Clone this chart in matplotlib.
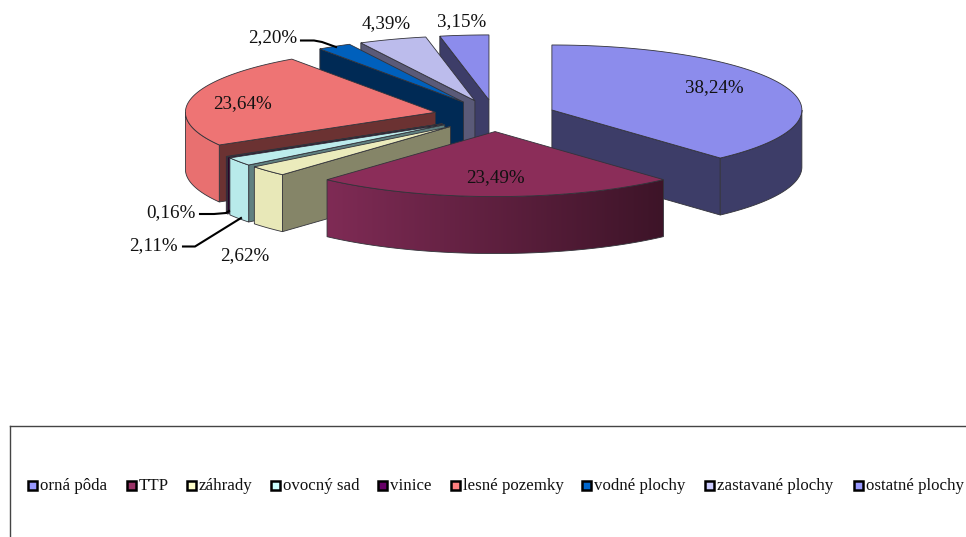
import numpy as np
import matplotlib
matplotlib.use("Agg")
import matplotlib.pyplot as plt
from matplotlib.patches import Polygon, Rectangle

plt.rcParams['font.family'] = ['Liberation Serif', 'DejaVu Serif']

# data
categories = ["orná pôda", "TTP", "záhrady", "ovocný sad", "vinice",
              "lesné pozemky", "vodné plochy", "zastavané plochy", "ostatné plochy"]
values = [38.24, 23.49, 2.62, 2.11, 0.16, 23.64, 2.20, 4.39, 3.15]

# colours
legend_colors = ["#9999ff", "#993366", "#ffffcc", "#ccffff", "#660066",
                 "#ff8080", "#0066cc", "#ccccff", "#9999ff"]
top_colors = ["#8c8cec", "#8b2d59", "#ebebbc", "#bcecec", "#5a0a5a",
              "#ee7474", "#0060bc", "#bcbcec", "#8c8cec"]
rim_colors = ["#3d3d68", "#7f2b55", "#e8e8b8", "#b8eaea", "#3a0a3a",
              "#e87070", "#002a55", "#5a5a78", "#3d3d68"]
cut_colors = ["#3d3d68", "#3d1428", "#858568", "#5f8080", "#2a052a",
              "#6b3232", "#002a55", "#5a5a78", "#3d3d68"]

# pie geometry in pixels
cx, cy = 495, 115.7
radius = 250
ry = 65
explode = 61
depth = 57
edge = "#33333a"


def rim_point(ax0, ay0, deg):
    a = np.radians(deg)
    return ax0 + radius * np.sin(a), ay0 - ry * np.cos(a)


def draw_slice(ax, i, start, end):
    mid = np.radians((start + end) / 2)
    ax0 = cx + explode * np.sin(mid)
    ay0 = cy - explode * ry / radius * np.cos(mid)
    sx, sy = rim_point(ax0, ay0, start)
    ex, ey = rim_point(ax0, ay0, end)

    # cut faces, only those turned to the viewer
    if 180 < start < 360:
        ax.add_patch(Polygon([(ax0, ay0), (sx, sy), (sx, sy + depth), (ax0, ay0 + depth)],
                             fc=cut_colors[i], ec=edge, lw=0.6))
    if 0 < end < 180:
        ax.add_patch(Polygon([(ax0, ay0), (ex, ey), (ex, ey + depth), (ax0, ay0 + depth)],
                             fc=cut_colors[i], ec=edge, lw=0.6))

    # outer wall on the front half
    lo, hi = max(start, 90), min(end, 270)
    if hi > lo:
        angles = np.linspace(lo, hi, 120)
        xs, ys = rim_point(ax0, ay0, angles)
        pts = list(zip(xs, ys)) + list(zip(xs[::-1], ys[::-1] + depth))
        if categories[i] == "TTP":
            # this one fades to dark towards the right
            c0 = np.array(matplotlib.colors.to_rgb(rim_colors[i]))
            c1 = np.array(matplotlib.colors.to_rgb(cut_colors[i]))
            grad = np.linspace(0, 1, 256)[None, :, None]
            img = c0 + (c1 - c0) * grad
            wall = Polygon(pts, fc="none", ec="none")
            ax.add_patch(wall)
            im = ax.imshow(img, extent=(xs.min(), xs.max(), ys.max() + depth, ys.min()),
                           aspect="auto", zorder=wall.get_zorder())
            im.set_clip_path(wall)
            ax.set_xlim(0, 966)
            ax.set_ylim(537, 0)
            ax.add_patch(Polygon(pts, fc="none", ec=edge, lw=0.6, zorder=1.5))
        else:
            ax.add_patch(Polygon(pts, fc=rim_colors[i], ec=edge, lw=0.6))

    # top face
    angles = np.linspace(start, end, 80)
    xs, ys = rim_point(ax0, ay0, angles)
    z = 2 if categories[i] == "TTP" else 1
    ax.add_patch(Polygon([(ax0, ay0)] + list(zip(xs, ys)), fc=top_colors[i], ec=edge, lw=0.6, zorder=z))


fig = plt.figure(figsize=(9.66, 5.37), dpi=100)
ax = fig.add_axes([0, 0, 1, 1])
ax.set_xlim(0, 966)
ax.set_ylim(537, 0)
ax.axis("off")

bounds = np.concatenate([[0], np.cumsum(values)]) * 3.6
bounds[-1] = 360

# back slices first, TTP sits in front of everything
draw_order = [8, 7, 6, 5, 4, 3, 2, 0, 1]
for i in draw_order:
    draw_slice(ax, i, bounds[i], bounds[i + 1])

# percentage labels
label_pos = [(714, 88), (495, 178), (245, 256), (153, 246), (171, 213),
             (242, 104), (273, 38), (386, 24), (462, 22)]
for v, (x, y) in zip(values, label_pos):
    ax.text(x, y, f"{v:.2f}%".replace(".", ","), fontsize=13.7, ha="center", va="center",
            color="#111111", zorder=5)

# leader lines
ax.plot([301, 314, 322, 336], [40.5, 40.5, 42, 47], color="black", lw=1.5, zorder=5)
ax.plot([200, 214, 226, 229], [214, 214, 213, 211], color="black", lw=1.5, zorder=5)
ax.plot([183, 195, 241], [246.5, 246.5, 218], color="black", lw=1.5, zorder=5)

# legend box runs off the image on the right and at the bottom
ax.plot([9.5, 9.5], [537, 425.5], color="#444444", lw=1.0)
ax.plot([9.5, 966], [425.5, 425.5], color="#444444", lw=1.0)

swatch_x = [27, 126, 186, 270, 377, 450, 581, 704, 853]
for name, col, x in zip(categories, legend_colors, swatch_x):
    ax.add_patch(Rectangle((x + 1, 480.5), 9, 9, fc=col, ec="black", lw=1.8))
    ax.text(x + 13, 485.5, name, fontsize=12.2, ha="left", va="center", color="#111111")

fig.savefig("out.png", dpi=100)
